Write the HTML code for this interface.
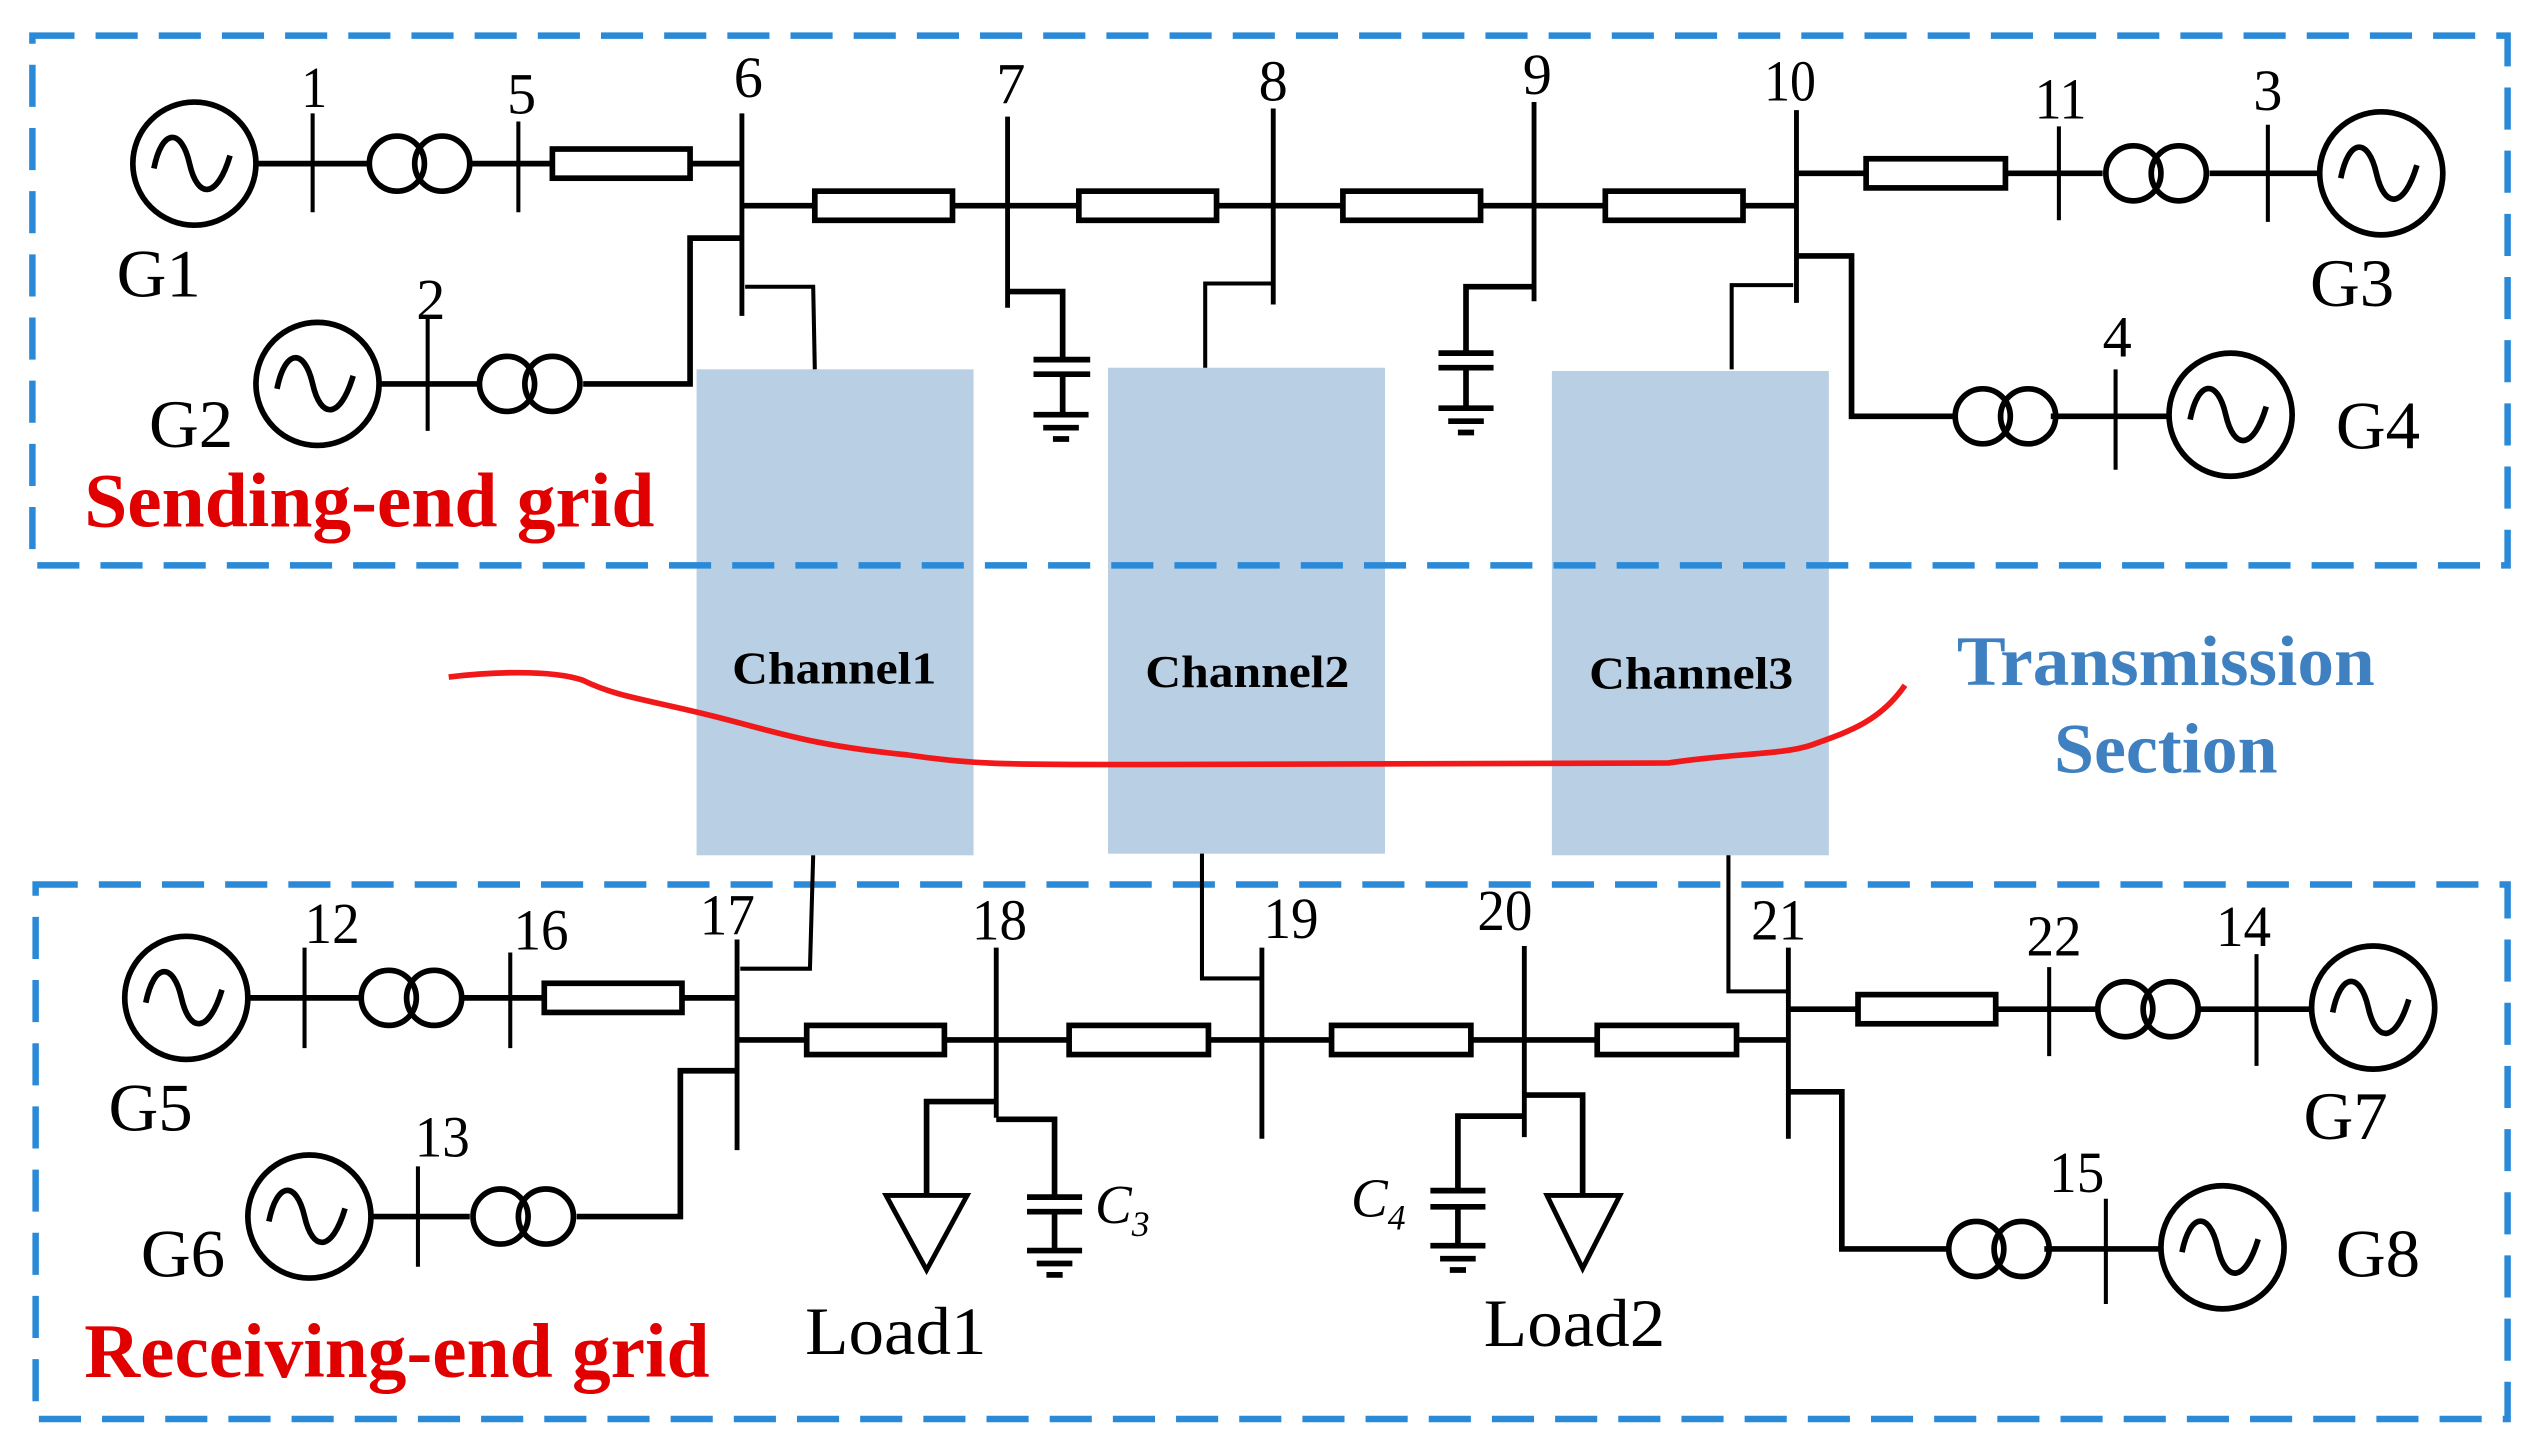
<!DOCTYPE html>
<html><head><meta charset="utf-8"><style>
html,body{margin:0;padding:0;background:#fff;}
svg{display:block;}
text{font-family:"Liberation Serif",serif;fill:#000;}
</style></head><body>
<svg width="2540" height="1449" viewBox="0 0 1568 894.5" preserveAspectRatio="none" xmlns="http://www.w3.org/2000/svg">
<defs>
<g id="gen"><circle cx="0" cy="0" r="38" fill="#fff" stroke="#000" stroke-width="3.5"/><path d="M-25,3 C-20,-22 -8,-22 -3,0 C2,22 14,22 22,-5" fill="none" stroke="#000" stroke-width="3.5"/></g>
<g id="tr"><circle cx="-14" cy="0" r="17" fill="none" stroke="#000" stroke-width="3.5"/><circle cx="14" cy="0" r="17" fill="none" stroke="#000" stroke-width="3.5"/></g>
<g id="gnd"><line x1="-17" y1="0" x2="17" y2="0"/><line x1="-11" y1="8" x2="11" y2="8"/><line x1="-5" y1="15" x2="5" y2="15"/></g>
</defs>
<rect x="430" y="228" width="171" height="300" fill="#b9cfe4"/>
<rect x="684" y="227" width="171" height="300" fill="#b9cfe4"/>
<rect x="958" y="229" width="171" height="299" fill="#b9cfe4"/>
<g fill="none" stroke="#2a8ad8" stroke-width="4" stroke-dasharray="26 13">
<rect x="20" y="22" width="1528" height="327"/>
<rect x="22" y="546" width="1526" height="330"/>
</g>
<g stroke="#000" stroke-width="3.5" fill="none">
<line x1="158" y1="101" x2="228" y2="101"/><line x1="290" y1="101" x2="341" y2="101"/><line x1="426" y1="101" x2="458" y2="101"/>
<line x1="193" y1="70" x2="193" y2="131" stroke-width="2.5"/><line x1="320" y1="75" x2="320" y2="131" stroke-width="2.5"/>
<rect x="341" y="92" width="85" height="18"/>
<line x1="458" y1="70" x2="458" y2="195" stroke-width="3"/>
<line x1="458" y1="127" x2="1109" y2="127"/>
<rect x="503" y="118" width="85" height="18" fill="#fff"/><rect x="666" y="118" width="85" height="18" fill="#fff"/><rect x="829" y="118" width="85" height="18" fill="#fff"/><rect x="991" y="118" width="85" height="18" fill="#fff"/>
<line x1="622" y1="72" x2="622" y2="190" stroke-width="3"/><line x1="786" y1="67" x2="786" y2="188" stroke-width="3"/><line x1="947" y1="63" x2="947" y2="186" stroke-width="3"/><line x1="1109" y1="68" x2="1109" y2="187" stroke-width="3"/>
<line x1="234" y1="237" x2="295" y2="237"/><line x1="264" y1="195" x2="264" y2="266" stroke-width="2.5"/>
<polyline points="360,237 426,237 426,147 458,147"/>
<polyline points="460,177 502,177 503,228" stroke-width="2.5"/>
<polyline points="622,180 656,180 656,222"/><line x1="638" y1="222" x2="673" y2="222"/><line x1="638" y1="231" x2="673" y2="231"/><line x1="656" y1="231" x2="656" y2="256"/>
<use href="#gnd" x="655" y="256"/>
<polyline points="786,175 744,175 744,227" stroke-width="2.5"/>
<polyline points="947,177 905,177 905,218"/><line x1="888" y1="218" x2="922" y2="218"/><line x1="888" y1="227" x2="922" y2="227"/><line x1="905" y1="227" x2="905" y2="252"/>
<use href="#gnd" x="905" y="252"/>
<polyline points="1107,176 1069,176 1069,228" stroke-width="2.5"/>
<line x1="1109" y1="107" x2="1152" y2="107"/><rect x="1152" y="98" width="86" height="18"/><line x1="1238" y1="107" x2="1298" y2="107"/><line x1="1364" y1="107" x2="1432" y2="107"/>
<line x1="1271" y1="78" x2="1271" y2="136" stroke-width="2.5"/><line x1="1400" y1="77" x2="1400" y2="137" stroke-width="2.5"/>
<polyline points="1109,158 1143,158 1143,257 1207,257"/><line x1="1266" y1="257" x2="1339" y2="257"/><line x1="1306" y1="228" x2="1306" y2="290" stroke-width="2.5"/>
<line x1="153" y1="616" x2="222" y2="616"/><line x1="285" y1="616" x2="336" y2="616"/><line x1="421" y1="616" x2="455" y2="616"/>
<line x1="188" y1="585" x2="188" y2="647" stroke-width="2.5"/><line x1="315" y1="588" x2="315" y2="647" stroke-width="2.5"/>
<rect x="336" y="607" width="85" height="18"/>
<line x1="455" y1="580" x2="455" y2="710" stroke-width="3"/>
<line x1="455" y1="642" x2="1104" y2="642"/>
<rect x="498" y="633" width="85" height="18" fill="#fff"/><rect x="660" y="633" width="86" height="18" fill="#fff"/><rect x="822" y="633" width="86" height="18" fill="#fff"/><rect x="986" y="633" width="86" height="18" fill="#fff"/>
<line x1="615" y1="585" x2="615" y2="690" stroke-width="3"/><line x1="779" y1="585" x2="779" y2="703" stroke-width="3"/><line x1="941" y1="584" x2="941" y2="702" stroke-width="3"/><line x1="1104" y1="585" x2="1104" y2="703" stroke-width="3"/>
<polyline points="457,598 500,598 502,528" stroke-width="2.5"/>
<line x1="229" y1="751" x2="290" y2="751"/><line x1="258" y1="720" x2="258" y2="782" stroke-width="2.5"/>
<polyline points="356,751 420,751 420,661 455,661"/>
<polyline points="615,680 572,680 572,738"/><polygon points="547,738 597,738 572,784" stroke-width="3"/>
<polyline points="615,691 651,691 651,739"/><line x1="634" y1="739" x2="668" y2="739"/><line x1="634" y1="748" x2="668" y2="748"/><line x1="651" y1="748" x2="651" y2="772"/>
<use href="#gnd" x="651" y="772"/>
<polyline points="779,604 742,604 742,527" stroke-width="2.5"/>
<polyline points="941,676 977,676 977,738"/><polygon points="955,738 1000,738 977,783" stroke-width="3"/>
<polyline points="941,689 900,689 900,735"/><line x1="883" y1="735" x2="917" y2="735"/><line x1="883" y1="745" x2="917" y2="745"/><line x1="900" y1="745" x2="900" y2="769"/>
<use href="#gnd" x="900" y="769"/>
<polyline points="1104,612 1067,612 1067,528" stroke-width="2.5"/>
<line x1="1104" y1="623" x2="1147" y2="623"/><rect x="1147" y="614" width="85" height="18"/><line x1="1232" y1="623" x2="1294" y2="623"/><line x1="1358" y1="623" x2="1428" y2="623"/>
<line x1="1265" y1="597" x2="1265" y2="652" stroke-width="2.5"/><line x1="1393" y1="589" x2="1393" y2="658" stroke-width="2.5"/>
<polyline points="1104,674 1137,674 1137,771 1202,771"/><line x1="1262" y1="771" x2="1334" y2="771"/><line x1="1300" y1="740" x2="1300" y2="805" stroke-width="2.5"/>
</g>
<use href="#gen" x="120" y="101"/><use href="#tr" x="259" y="101"/>
<use href="#gen" x="196" y="237"/><use href="#tr" x="327" y="237"/>
<use href="#tr" x="1331" y="107"/><use href="#gen" x="1470" y="107"/>
<use href="#tr" x="1238" y="257"/><use href="#gen" x="1377" y="256"/>
<use href="#gen" x="115" y="616"/><use href="#tr" x="254" y="616"/>
<use href="#gen" x="191" y="751"/><use href="#tr" x="323" y="751"/>
<use href="#tr" x="1326" y="623"/><use href="#gen" x="1465" y="622"/>
<use href="#tr" x="1234" y="771"/><use href="#gen" x="1372" y="770"/>
<path d="M277,418 C300,415 340,413 360,420 C380,430 400,432 440,442 C480,452 500,460 560,466 C600,472 620,472 700,472 L1030,471 C1070,465 1100,466 1118,460 C1140,452 1160,446 1176,423" fill="none" stroke="#f01818" stroke-width="3.5"/>
<g font-size="36" text-anchor="middle">
<text x="194" y="66" textLength="16" lengthAdjust="spacingAndGlyphs">1</text><text x="322" y="70">5</text><text x="462" y="60">6</text><text x="624" y="64">7</text><text x="786" y="62">8</text><text x="949" y="58">9</text><text x="1105" y="62" textLength="32" lengthAdjust="spacingAndGlyphs">10</text><text x="1272" y="73" textLength="32" lengthAdjust="spacingAndGlyphs">11</text><text x="1400" y="68">3</text><text x="266" y="197">2</text><text x="1307" y="220">4</text>
<text x="205" y="582" textLength="34" lengthAdjust="spacingAndGlyphs">12</text><text x="334" y="586" textLength="34" lengthAdjust="spacingAndGlyphs">16</text><text x="449" y="577" textLength="34" lengthAdjust="spacingAndGlyphs">17</text><text x="617" y="580" textLength="34" lengthAdjust="spacingAndGlyphs">18</text><text x="797" y="579" textLength="34" lengthAdjust="spacingAndGlyphs">19</text><text x="929" y="574" textLength="34" lengthAdjust="spacingAndGlyphs">20</text><text x="1098" y="580" textLength="34" lengthAdjust="spacingAndGlyphs">21</text><text x="1268" y="590" textLength="34" lengthAdjust="spacingAndGlyphs">22</text><text x="1385" y="584" textLength="34" lengthAdjust="spacingAndGlyphs">14</text><text x="273" y="714" textLength="34" lengthAdjust="spacingAndGlyphs">13</text><text x="1282" y="736" textLength="34" lengthAdjust="spacingAndGlyphs">15</text>
</g>
<g font-size="42" text-anchor="middle">
<text x="98" y="183" textLength="52" lengthAdjust="spacingAndGlyphs">G1</text><text x="118" y="276" textLength="52" lengthAdjust="spacingAndGlyphs">G2</text><text x="1452" y="189" textLength="52" lengthAdjust="spacingAndGlyphs">G3</text><text x="1468" y="277" textLength="52" lengthAdjust="spacingAndGlyphs">G4</text>
<text x="93" y="698" textLength="52" lengthAdjust="spacingAndGlyphs">G5</text><text x="113" y="788" textLength="52" lengthAdjust="spacingAndGlyphs">G6</text><text x="1448" y="703" textLength="52" lengthAdjust="spacingAndGlyphs">G7</text><text x="1468" y="788" textLength="52" lengthAdjust="spacingAndGlyphs">G8</text>
<text x="553" y="836" textLength="112" lengthAdjust="spacingAndGlyphs">Load1</text><text x="972" y="831" textLength="112" lengthAdjust="spacingAndGlyphs">Load2</text>
</g>
<text x="676" y="755" font-size="34" font-style="italic">C<tspan font-size="22" dy="8">3</tspan></text>
<text x="834" y="751" font-size="34" font-style="italic">C<tspan font-size="22" dy="8">4</tspan></text>
<g font-size="28" font-weight="bold" text-anchor="middle">
<text x="515" y="422" textLength="126" lengthAdjust="spacingAndGlyphs">Channel1</text><text x="770" y="424" textLength="126" lengthAdjust="spacingAndGlyphs">Channel2</text><text x="1044" y="425" textLength="126" lengthAdjust="spacingAndGlyphs">Channel3</text>
</g>
<g font-size="44" font-weight="bold" text-anchor="middle">
<text x="1337" y="423" style="fill:#3f80c0" textLength="258" lengthAdjust="spacingAndGlyphs">Transmission</text><text x="1337" y="477" style="fill:#3f80c0" textLength="138" lengthAdjust="spacingAndGlyphs">Section</text>
</g>
<text x="52" y="325" font-size="48" font-weight="bold" style="fill:#e00000" textLength="352" lengthAdjust="spacingAndGlyphs">Sending-end grid</text>
<text x="52" y="850" font-size="48" font-weight="bold" style="fill:#e00000" textLength="386" lengthAdjust="spacingAndGlyphs">Receiving-end grid</text>
</svg>
</body></html>
